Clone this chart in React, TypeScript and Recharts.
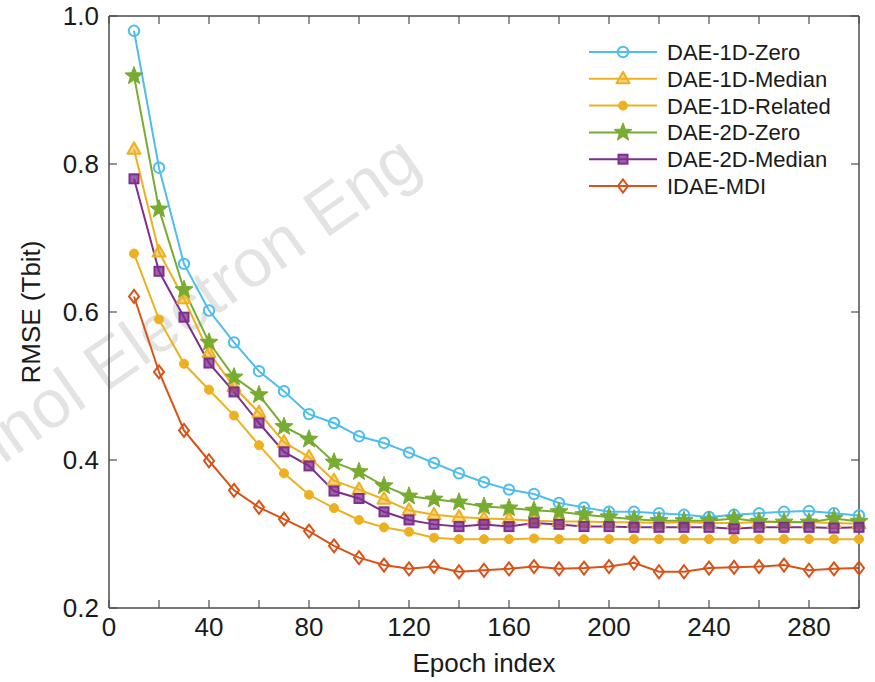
import { LineChart, Line, XAxis, YAxis, Legend } from 'recharts';

// Training epochs at which RMSE was recorded
const epochs = [
  10, 20, 30, 40, 50, 60, 70, 80, 90, 100, 110, 120, 130, 140, 150,
  160, 170, 180, 190, 200, 210, 220, 230, 240, 250, 260, 270, 280, 290, 300,
];

const dae1dZero = [
  0.98, 0.795, 0.665, 0.602, 0.559, 0.52, 0.493, 0.462, 0.45, 0.432, 0.423, 0.41, 0.396, 0.382, 0.37,
  0.36, 0.354, 0.342, 0.336, 0.33, 0.33, 0.328, 0.326, 0.323, 0.326, 0.328, 0.33, 0.331, 0.328, 0.325,
];
const dae1dMedian = [
  0.82, 0.681, 0.618, 0.545, 0.499, 0.464, 0.424, 0.404, 0.372, 0.36, 0.347, 0.332, 0.326, 0.323, 0.321,
  0.32, 0.318, 0.317, 0.317, 0.316, 0.316, 0.315, 0.316, 0.315, 0.315, 0.316, 0.317, 0.316, 0.315, 0.314,
];
const dae1dRelated = [
  0.679, 0.59, 0.53, 0.495, 0.46, 0.42, 0.382, 0.353, 0.335, 0.319, 0.309, 0.303, 0.295, 0.293, 0.293,
  0.293, 0.294, 0.293, 0.293, 0.293, 0.293, 0.293, 0.293, 0.293, 0.293, 0.293, 0.293, 0.293, 0.293, 0.293,
];
const dae2dZero = [
  0.919, 0.739, 0.63, 0.559, 0.512, 0.488, 0.445, 0.428, 0.397, 0.384, 0.365, 0.351, 0.347, 0.343, 0.337,
  0.335, 0.332, 0.33, 0.326, 0.323, 0.32, 0.318, 0.318, 0.318, 0.321, 0.317, 0.316, 0.316, 0.321, 0.317,
];
const dae2dMedian = [
  0.78, 0.655, 0.593, 0.531, 0.492, 0.45, 0.411, 0.392, 0.358, 0.348, 0.33, 0.319, 0.313, 0.31, 0.313,
  0.31, 0.315, 0.313, 0.31, 0.31, 0.309, 0.309, 0.309, 0.309, 0.307, 0.309, 0.309, 0.309, 0.308, 0.309,
];
const idaeMdi = [
  0.621, 0.519, 0.44, 0.399, 0.359, 0.336, 0.32, 0.304, 0.284, 0.268, 0.258, 0.253, 0.256, 0.249, 0.251,
  0.253, 0.256, 0.253, 0.254, 0.256, 0.261, 0.249, 0.249, 0.254, 0.255, 0.256, 0.258, 0.251, 0.253, 0.254,
];

const xTicks = [0, 20, 40, 60, 80, 100, 120, 140, 160, 180, 200, 220, 240, 260, 280, 300];
const xLabelled = [0, 40, 80, 120, 160, 200, 240, 280];
const yTicks = [0.2, 0.4, 0.6, 0.8, 1.0];

type Shape = 'circle' | 'triangle' | 'dot' | 'star' | 'square' | 'diamond';

const series: { key: string; name: string; color: string; shape: Shape; values: number[] }[] = [
  { key: 'd1z', name: 'DAE-1D-Zero', color: '#4DBEEE', shape: 'circle', values: dae1dZero },
  { key: 'd1m', name: 'DAE-1D-Median', color: '#EDB120', shape: 'triangle', values: dae1dMedian },
  { key: 'd1r', name: 'DAE-1D-Related', color: '#EDB120', shape: 'dot', values: dae1dRelated },
  { key: 'd2z', name: 'DAE-2D-Zero', color: '#77AC30', shape: 'star', values: dae2dZero },
  { key: 'd2m', name: 'DAE-2D-Median', color: '#7E2F8E', shape: 'square', values: dae2dMedian },
  { key: 'idae', name: 'IDAE-MDI', color: '#D95319', shape: 'diamond', values: idaeMdi },
];

const data = epochs.map((epoch, i) => {
  const row: Record<string, number> = { epoch };
  series.forEach((s) => (row[s.key] = s.values[i]));
  return row;
});

const FONT = '"Liberation Sans", Arial, Helvetica, sans-serif';
const AXIS = '#4d4d4d';
const TEXT = '#1a1a1a';
const TICK_LEN = 8;

function starPoints(cx: number, cy: number, outer: number, inner: number) {
  const pts: string[] = [];
  for (let k = 0; k < 10; k++) {
    const r = k % 2 === 0 ? outer : inner;
    const a = -Math.PI / 2 + (k * Math.PI) / 5;
    pts.push(`${cx + r * Math.cos(a)},${cy + r * Math.sin(a)}`);
  }
  return pts.join(' ');
}

function Marker({ cx, cy, shape, color }: { cx: number; cy: number; shape: Shape; color: string }) {
  switch (shape) {
    case 'circle':
      return <circle cx={cx} cy={cy} r={5.2} fill="none" stroke={color} strokeWidth={2} />;
    case 'triangle':
      return (
        <polygon
          points={`${cx},${cy - 7} ${cx + 6.5},${cy + 4.5} ${cx - 6.5},${cy + 4.5}`}
          fill={color}
          fillOpacity={0.55}
          stroke={color}
          strokeWidth={2}
          strokeLinejoin="round"
        />
      );
    case 'dot':
      return <circle cx={cx} cy={cy} r={4.5} fill={color} stroke={color} strokeWidth={1} />;
    case 'star':
      return <polygon points={starPoints(cx, cy, 9.5, 4)} fill={color} stroke={color} strokeWidth={1} strokeLinejoin="round" />;
    case 'square':
      return (
        <rect x={cx - 4.5} y={cy - 4.5} width={9} height={9} fill={color} fillOpacity={0.75} stroke={color} strokeWidth={2} />
      );
    case 'diamond':
      return (
        <polygon
          points={`${cx},${cy - 6.5} ${cx + 5},${cy} ${cx},${cy + 6.5} ${cx - 5},${cy}`}
          fill="none"
          stroke={color}
          strokeWidth={2}
        />
      );
  }
}

function BottomTick({ x, y, payload }: any) {
  return (
    <g>
      <line x1={x} y1={y} x2={x} y2={y - TICK_LEN} stroke={AXIS} strokeWidth={1.2} />
      {xLabelled.includes(payload.value) && (
        <text x={x} y={y + 28} textAnchor="middle" fontSize={26} fontFamily={FONT} fill={TEXT}>
          {payload.value}
        </text>
      )}
    </g>
  );
}

function TopTick({ x, y }: any) {
  return <line x1={x} y1={y} x2={x} y2={y + TICK_LEN} stroke={AXIS} strokeWidth={1.2} />;
}

function LeftTick({ x, y, payload }: any) {
  return (
    <g>
      <line x1={x} y1={y} x2={x + TICK_LEN} y2={y} stroke={AXIS} strokeWidth={1.2} />
      <text x={x - 10} y={y + 9} textAnchor="end" fontSize={26} fontFamily={FONT} fill={TEXT}>
        {Number(payload.value).toFixed(1)}
      </text>
    </g>
  );
}

function RightTick({ x, y }: any) {
  return <line x1={x} y1={y} x2={x - TICK_LEN} y2={y} stroke={AXIS} strokeWidth={1.2} />;
}

function YTitle({ viewBox }: any) {
  const cx = viewBox.x + 31;
  const cy = viewBox.y + viewBox.height / 2;
  return (
    <text
      x={cx}
      y={cy}
      transform={`rotate(-90, ${cx}, ${cy})`}
      textAnchor="middle"
      dominantBaseline="central"
      fontSize={26}
      fontFamily={FONT}
      fill={TEXT}
    >
      RMSE (Tbit)
    </text>
  );
}

function XTitle({ viewBox }: any) {
  return (
    <text
      x={viewBox.x + viewBox.width / 2}
      y={viewBox.y + 64}
      textAnchor="middle"
      fontSize={26}
      fontFamily={FONT}
      fill={TEXT}
    >
      Epoch index
    </text>
  );
}

function LegendBox() {
  return (
    <svg width={285} height={170} style={{ display: 'block' }}>
      {series.map((s, i) => {
        const cy = 14 + i * 26.8;
        return (
          <g key={s.key}>
            <line x1={4} x2={72} y1={cy} y2={cy} stroke={s.color} strokeWidth={2} />
            <Marker cx={38} cy={cy} shape={s.shape} color={s.color} />
            <text x={82} y={cy + 8} fontSize={22} fontFamily={FONT} fill={TEXT}>
              {s.name}
            </text>
          </g>
        );
      })}
    </svg>
  );
}

export default function App() {
  return (
    <div style={{ position: 'absolute', left: 0, top: 0, width: 875, height: 682, background: '#fff' }}>
      {/* journal watermark behind the plot */}
      <svg width={875} height={682} style={{ position: 'absolute', left: 0, top: 0 }}>
        <text
          transform="translate(424,170) rotate(-35)"
          textAnchor="end"
          fontSize={68}
          fontFamily={FONT}
          fill="#000"
          fillOpacity={0.11}
        >
          Front Inform Technol Electron Eng
        </text>
      </svg>
      <div style={{ position: 'absolute', left: 0, top: 0 }}>
        <LineChart width={875} height={682} data={data} margin={{ top: 15, right: 15, bottom: 34, left: 0 }}>
          <XAxis
            dataKey="epoch"
            type="number"
            domain={[0, 300]}
            ticks={xTicks}
            interval={0}
            height={40}
            tickSize={0}
            tickMargin={0}
            tickLine={false}
            axisLine={{ stroke: AXIS, strokeWidth: 1.5 }}
            tick={<BottomTick />}
            label={{ content: <XTitle /> }}
          />
          <XAxis
            xAxisId="top"
            orientation="top"
            dataKey="epoch"
            type="number"
            domain={[0, 300]}
            ticks={xTicks}
            interval={0}
            height={1}
            tickSize={0}
            tickMargin={0}
            tickLine={false}
            axisLine={{ stroke: AXIS, strokeWidth: 1.5 }}
            tick={<TopTick />}
          />
          <YAxis
            type="number"
            domain={[0.2, 1.0]}
            ticks={yTicks}
            interval={0}
            width={109}
            tickSize={0}
            tickMargin={0}
            tickLine={false}
            axisLine={{ stroke: AXIS, strokeWidth: 1.5 }}
            tick={<LeftTick />}
            label={{ content: <YTitle /> }}
          />
          <YAxis
            yAxisId="right"
            orientation="right"
            type="number"
            domain={[0.2, 1.0]}
            ticks={yTicks}
            interval={0}
            width={1}
            tickSize={0}
            tickMargin={0}
            tickLine={false}
            axisLine={{ stroke: AXIS, strokeWidth: 1.5 }}
            tick={<RightTick />}
          />
          <Legend
            layout="vertical"
            align="center"
            verticalAlign="middle"
            wrapperStyle={{ left: 585, top: 38, width: 285 }}
            content={<LegendBox />}
          />
          {/* invisible series so the mirrored box axes get drawn */}
          <Line
            xAxisId="top"
            yAxisId="right"
            dataKey="d1r"
            stroke="none"
            dot={false}
            activeDot={false}
            legendType="none"
            isAnimationActive={false}
          />
          {series.map((s) => (
            <Line
              key={s.key}
              dataKey={s.key}
              name={s.name}
              stroke={s.color}
              strokeWidth={2}
              isAnimationActive={false}
              dot={(p: any) => (
                <g key={`${s.key}-${p.index}`}>
                  <Marker cx={p.cx} cy={p.cy} shape={s.shape} color={s.color} />
                </g>
              )}
            />
          ))}
        </LineChart>
      </div>
    </div>
  );
}
